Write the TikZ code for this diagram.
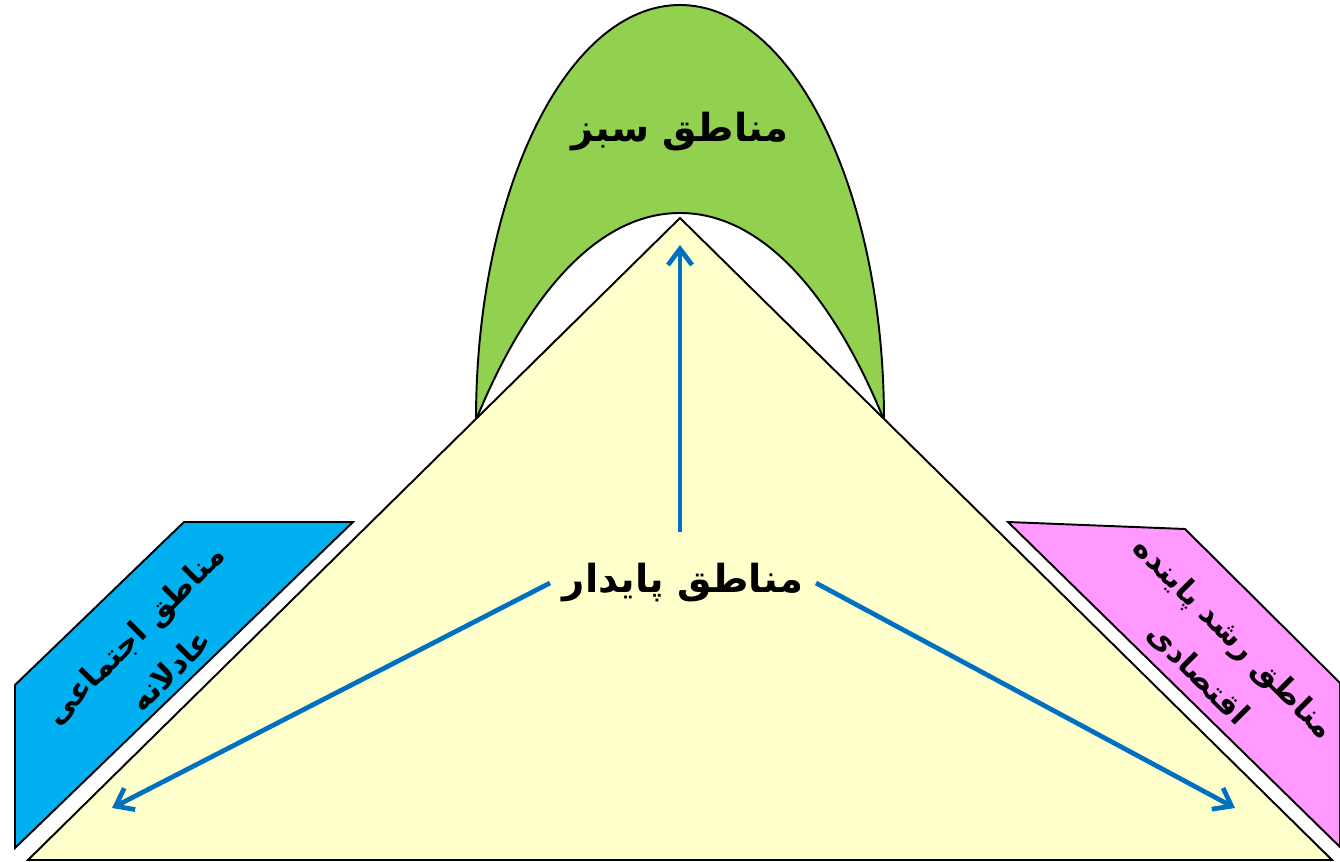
\documentclass[tikz,border=0pt]{standalone}
\usepackage{fontspec}
\usepackage[HTML]{xcolor}
\usepackage{tikz}
\usetikzlibrary{positioning, arrows.meta}
\TeXXeTstate=1
\newfontfamily\arabicfont[Script=Arabic]{DejaVu Sans}
\definecolor{baseyellow}{HTML}{FFFFCC}
\definecolor{greenzone}{HTML}{92D050}
\definecolor{bluezone}{HTML}{00B0F0}
\definecolor{pinkzone}{HTML}{FF99FF}
\definecolor{arrowblue}{HTML}{0070C0}
\tikzset{
  zone/.style={draw=black, line width=1.1pt, line join=miter},
  flow/.style={draw=arrowblue, line width=2.7pt, -{Straight Barb[length=0.32cm, width=0.48cm]}},
  zonetext/.style={font=\arabicfont\bfseries\fontsize{22}{40}\selectfont, align=center, inner sep=0pt},
  sidetext/.style={zonetext, font=\arabicfont\bfseries\fontsize{17.5}{29}\selectfont},
}

\begin{document}
\begin{tikzpicture}[x=0.02cm, y=-0.02cm]
\useasboundingbox (0,0) rectangle (1340,862);
% green arch
\filldraw[zone, fill=greenzone] (476,420) .. controls (476,191) and (567,5) .. (680,5)
  .. controls (793,5) and (884,191) .. (884,420)
  .. controls (835,300) and (765,213) .. (680,213)
  .. controls (595,213) and (525,300) .. (476,420) -- cycle;
% side zones
\filldraw[zone, fill=bluezone] (184,522) -- (353,522) -- (15,848) -- (15,685) -- cycle;
\filldraw[zone, fill=pinkzone] (1008,522) -- (1185,529) -- (1340,683) -- (1340,847) -- cycle;
% base triangle
\filldraw[zone, fill=baseyellow] (28,860) -- (680,218) -- (1332,860) -- cycle;
\coordinate (apex) at (680,245);
\coordinate (lefttip) at (112,808);
\coordinate (righttip) at (1235,808);
% labels
\node[zonetext] (green) at (680,132) {\beginR مناطق سبز\endR};
\node[zonetext, inner xsep=0.25cm, inner ysep=0.62cm] (stable) at (683,583) {\beginR مناطق پایدار\endR};
\node[sidetext, rotate=45] (social) at (152,652)
  {\beginR مناطق اجتماعی\endR\\\beginR عادلانه\endR};
\node[sidetext, rotate=-45] (econ) at (1216,656)
  {\beginR مناطق رشد پاینده\endR\\\beginR اقتصادی\endR};
% arrows
\draw[flow] (stable.north -| apex) -- (apex);
\draw[flow] (stable.west) -- (lefttip);
\draw[flow] (stable.east) -- (righttip);
\end{tikzpicture}
\end{document}
